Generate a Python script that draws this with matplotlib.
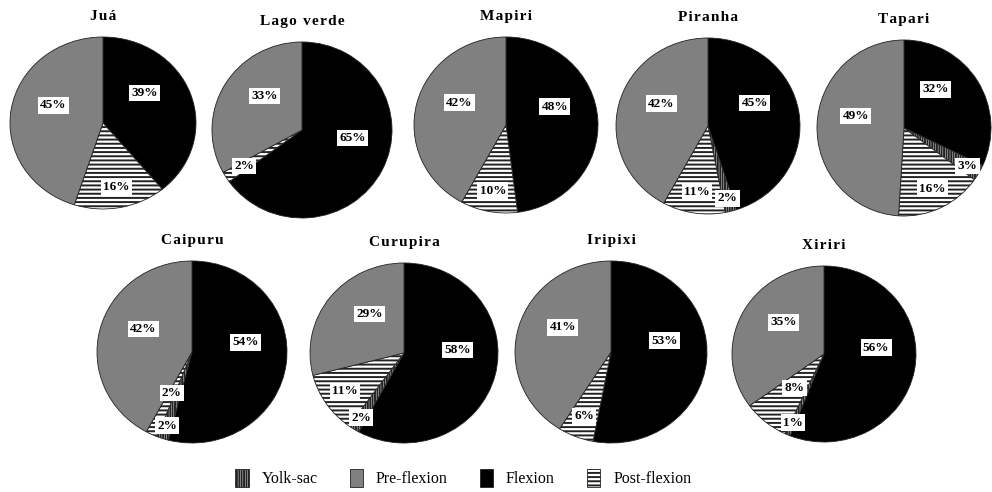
import numpy as np
import matplotlib
matplotlib.use('Agg')
import matplotlib.pyplot as plt
from matplotlib.patches import Patch

plt.rcParams['font.family'] = ['Liberation Serif', 'DejaVu Serif']
plt.rcParams['hatch.linewidth'] = 1.4

# percentage of larvae per development stage and site
sites = ['Juá', 'Lago verde', 'Mapiri', 'Piranha', 'Tapari',
         'Caipuru', 'Curupira', 'Iripixi', 'Xiriri']
stages = ['Yolk-sac', 'Pre-flexion', 'Flexion', 'Post-flexion']
flexion = [39, 65, 48, 45, 32, 54, 58, 53, 56]
yolk_sac = [0, 0, 0, 2, 3, 2, 2, 0, 1]
post_flexion = [16, 2, 10, 11, 16, 2, 11, 6, 8]
pre_flexion = [45, 33, 42, 42, 49, 42, 29, 41, 35]

W, H = 992, 492
# pie centre / radii in pixels (layout only)
layout = [(103, 123, 93, 86), (302, 130, 90, 88), (506, 125, 92, 88),
          (708, 126, 92, 88), (904, 128, 87, 88),
          (192, 352, 95, 91), (404, 353, 94, 90), (611, 352, 96, 91),
          (824, 354, 92, 88)]

styles = {
    'Flexion': dict(facecolor='black', hatch=None),
    'Yolk-sac': dict(facecolor='white', hatch='|||||||'),
    'Post-flexion': dict(facecolor='white', hatch='----'),
    'Pre-flexion': dict(facecolor='#808080', hatch=None),
}

fig = plt.figure(figsize=(W / 100, H / 100), dpi=100)

for i, site in enumerate(sites):
    cx, cy, rx, ry = layout[i]
    ax = fig.add_axes([(cx - rx) / W, 1 - (cy + ry) / H, 2 * rx / W, 2 * ry / H])
    order = ['Flexion', 'Yolk-sac', 'Post-flexion', 'Pre-flexion']
    vals = [flexion[i], yolk_sac[i], post_flexion[i], pre_flexion[i]]
    wedges, _ = ax.pie(vals, startangle=90, counterclock=False,
                       wedgeprops=dict(edgecolor='#222222', linewidth=0.6))
    for w, st in zip(wedges, order):
        w.set_facecolor(styles[st]['facecolor'])
        if styles[st]['hatch']:
            w.set_hatch(styles[st]['hatch'])
        w.set_clip_on(False)
    ax.set_xlim(-1, 1)
    ax.set_ylim(-1, 1)
    ax.set_aspect('auto')
    ax.axis('off')
    # letter-spaced title, ~21 px above the pie
    ax.annotate('\u200a'.join(site), xy=(0.5, 1), xycoords='axes fraction',
                xytext=(0, 15), textcoords='offset points',
                ha='center', va='center', fontsize=11, fontweight='bold')

    for w, st, v in zip(wedges, order, vals):
        if v == 0:
            continue
        mid = (w.theta1 + w.theta2) / 2
        if st == 'Yolk-sac':
            r, ang = 0.85, mid
        elif st == 'Post-flexion':
            r = 0.5 if (yolk_sac[i] > 0 and v < 10) else 0.76
            ang = mid
        elif st == 'Flexion':
            r, ang = 0.57, mid + 18
        else:
            r, ang = 0.57, mid - 12
        x = r * np.cos(np.radians(ang))
        y = r * np.sin(np.radians(ang))
        ax.text(x, y, f'{v}%', ha='center', va='center', fontsize=9.5,
                fontweight='bold',
                bbox=dict(facecolor='white', edgecolor='none', pad=1.6))

handles = [Patch(facecolor=styles[s]['facecolor'], hatch=styles[s]['hatch'],
                 edgecolor='#222222', linewidth=0.6) for s in stages]
fig.legend(handles, stages, loc='center', bbox_to_anchor=(0.467, 1 - 478 / H),
           ncol=4, frameon=False, fontsize=11.5, handlelength=0.85,
           handleheight=1.35, handletextpad=0.8, columnspacing=2.0)

fig.savefig('out.png', dpi=100)
